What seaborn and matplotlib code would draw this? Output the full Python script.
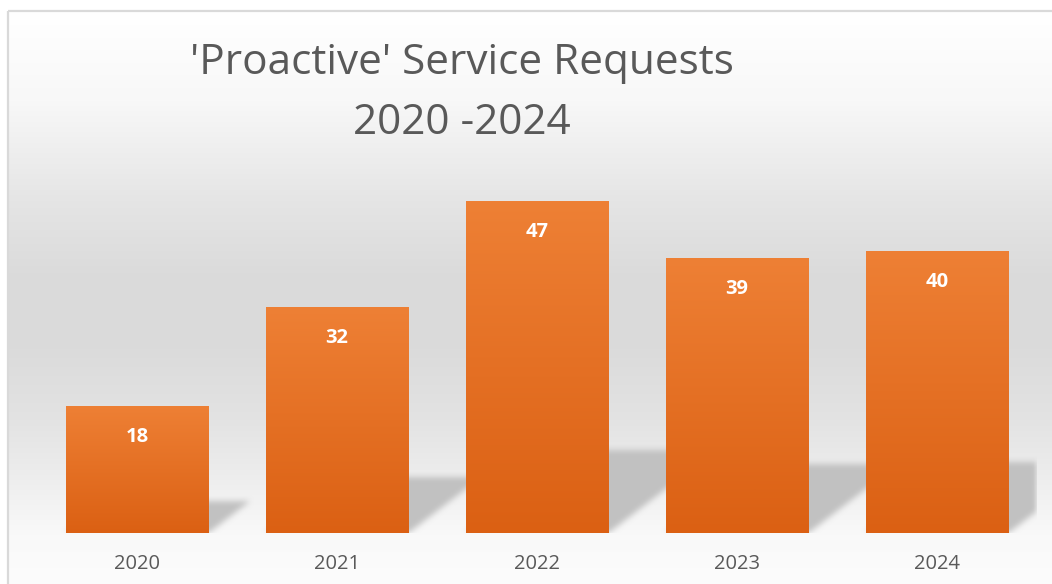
import numpy as np
import matplotlib
matplotlib.use("Agg")
import matplotlib.pyplot as plt
import seaborn as sns

# Chart data
years = ["2020", "2021", "2022", "2023", "2024"]
requests = [18, 32, 47, 39, 40]
title_lines = ["'Proactive' Service Requests", "2020 -2024"]

sns.set_theme(style="white")
plt.rcParams["font.family"] = ["Open Sans", "DejaVu Sans"]

W, H, DPI = 1052, 584, 100
fig = plt.figure(figsize=(W / DPI, H / DPI), dpi=DPI)
fig.patch.set_facecolor("white")

# ---- background panel with a soft vertical grey gradient and thin frame ----
bg = fig.add_axes([0, 0, 1, 1], zorder=0)
bg.set_xlim(0, W)
bg.set_ylim(H, 0)
bg.axis("off")
stops_y = [12, 100, 200, 280, 340, 420, 480, 535, 584]
stops_g = [255, 248, 229, 218, 218, 227, 238, 249, 252]
ys = np.arange(12, H)
grey = np.interp(ys, stops_y, stops_g) / 255.0
grad = np.repeat(np.repeat(grey[:, None, None], 3, axis=2), 16, axis=1)
bg.imshow(grad, extent=[9, W, H, 12], aspect="auto", origin="upper",
          interpolation="nearest")
frame = "#d9d9d9"
bg.plot([8, 8], [11, H], color=frame, lw=1.6, solid_capstyle="butt")
bg.plot([8, W], [11, 11], color=frame, lw=1.6, solid_capstyle="butt")

# ---- main plotting axes ----
ax_left, ax_right, ax_bottom, ax_top = 37, 1037, 533, 180
ax = fig.add_axes([ax_left / W, (H - ax_bottom) / H,
                   (ax_right - ax_left) / W, (ax_bottom - ax_top) / H], zorder=1)
ax.set_facecolor("none")
YMAX = 50
bar_w = 0.715

sns.barplot(x=years, y=requests, ax=ax, color="#e46c1f", saturation=1,
            width=bar_w, linewidth=0, edgecolor="none", zorder=2)

# perspective drop shadows cast to the right of each bar
px_x = (ax_right - ax_left) / 5.0
px_y = (ax_bottom - ax_top) / YMAX
ncol, nrow = ax_right - ax_left, ax_bottom - ax_top
mask = np.zeros((nrow, ncol))
yy = np.arange(nrow) + 0.5
xx = np.arange(ncol) + 0.5
for i, v in enumerate(requests):
    top = 0.25 * v * px_y
    left = (i - bar_w / 2 + 0.5) * px_x
    right = (i + bar_w / 2 + 0.5) * px_x
    for r in range(nrow):
        if yy[r] > top:
            break
        s = 1.3 * yy[r]
        mask[r, (xx >= left + s) & (xx <= right + s)] = 1.0


def box_blur(a, k):
    ker = np.ones(k) / k
    a = np.apply_along_axis(lambda m: np.convolve(m, ker, mode="same"), 0, a)
    a = np.apply_along_axis(lambda m: np.convolve(m, ker, mode="same"), 1, a)
    return a


mask = box_blur(box_blur(mask, 7), 7)
shadow = np.zeros((nrow, ncol, 4))
shadow[..., :3] = 0.76
shadow[..., 3] = np.clip(mask, 0, 1)
ax.imshow(shadow, extent=[-0.5, 4.5, 0, YMAX], origin="lower", aspect="auto",
          interpolation="nearest", zorder=1)

# vertical orange gradient inside every bar
top_c = np.array([0xee, 0x80, 0x35]) / 255.0
bot_c = np.array([0xdb, 0x60, 0x13]) / 255.0
t = np.linspace(0, 1, 256)[:, None]
bar_grad = np.repeat((top_c[None, :] * (1 - t) + bot_c[None, :] * t)[:, None, :], 4, axis=1)
for patch in ax.patches:
    x0 = patch.get_x()
    w = patch.get_width()
    h = patch.get_height()
    im = ax.imshow(bar_grad, extent=[x0, x0 + w, 0, h], origin="upper",
                   aspect="auto", interpolation="bilinear", zorder=3)
    im.set_clip_path(patch)

# value labels inside the top of each bar
for i, v in enumerate(requests):
    ax.annotate(str(v), xy=(i, v), xytext=(0, -22.5), textcoords="offset points",
                ha="center", va="center", color="white", fontsize=14.5,
                fontweight="bold", zorder=4)

ax.set_xlim(-0.5, 4.5)
ax.set_ylim(0, YMAX)
ax.set_yticks([])
ax.set_xlabel("")
ax.set_ylabel("")
ax.tick_params(axis="x", length=0, pad=15, labelsize=14.5, labelcolor="#595959")
for sp in ax.spines.values():
    sp.set_visible(False)

# two-line chart title
fig.text(462 / W, 1 - 63 / H, title_lines[0], ha="center", va="center",
         fontsize=30.4, color="#595959")
fig.text(462 / W, 1 - 123 / H, title_lines[1], ha="center", va="center",
         fontsize=30.4, color="#595959")

fig.savefig("out.png", dpi=DPI)
